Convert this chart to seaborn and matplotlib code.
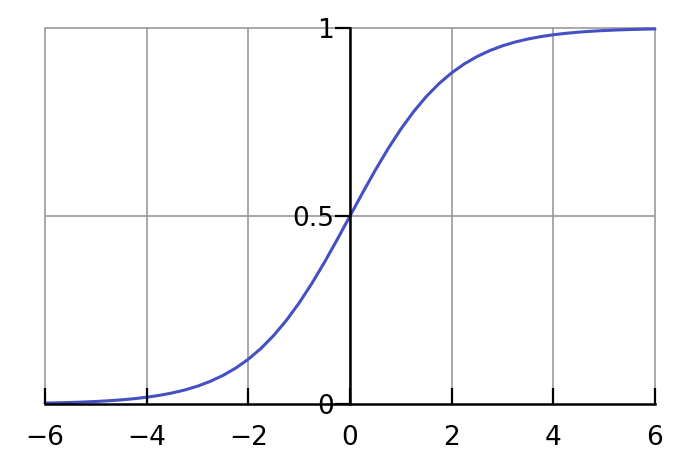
import numpy as np
import pandas as pd
import matplotlib
matplotlib.use('Agg')
import matplotlib.pyplot as plt
import seaborn as sns

# Logistic curve, values
x_vals = [-6, -5.75, -5.5, -5.25, -5, -4.75, -4.5, -4.25, -4, -3.75, -3.5, -3.25, -3,
          -2.75, -2.5, -2.25, -2, -1.75, -1.5, -1.25, -1, -0.75, -0.5, -0.25, 0,
          0.25, 0.5, 0.75, 1, 1.25, 1.5, 1.75, 2, 2.25, 2.5, 2.75, 3,
          3.25, 3.5, 3.75, 4, 4.25, 4.5, 4.75, 5, 5.25, 5.5, 5.75, 6]
y_vals = [0.0025, 0.0032, 0.0041, 0.0052, 0.0067, 0.0086, 0.0110, 0.0141, 0.0180, 0.0230,
          0.0293, 0.0373, 0.0474, 0.0601, 0.0759, 0.0953, 0.1192, 0.1480, 0.1824, 0.2227,
          0.2689, 0.3208, 0.3775, 0.4378, 0.5,
          0.5622, 0.6225, 0.6792, 0.7311, 0.7773, 0.8176, 0.8520, 0.8808, 0.9047, 0.9241,
          0.9399, 0.9526, 0.9627, 0.9707, 0.9770, 0.9820, 0.9859, 0.9890, 0.9914, 0.9933,
          0.9948, 0.9959, 0.9968, 0.9975]
x_ticks = [-6, -4, -2, 0, 2, 4, 6]
x_labels = ['\u22126', '\u22124', '\u22122', '0', '2', '4', '6']
y_ticks = [0, 0.5, 1]
y_labels = ['0', '0.5', '1']

df = pd.DataFrame({'x': x_vals, 'y': y_vals})

sns.set_style('white')
plt.rcParams['font.family'] = ['DejaVu Sans']

fig = plt.figure(figsize=(7, 4.67), dpi=100)
ax = fig.add_axes([45 / 700, 1 - 404 / 467, 610 / 700, 376 / 467])

# grid
for xv in x_ticks:
    ax.axvline(xv, color='#999999', lw=1.2, zorder=1, clip_on=False)
for yv in [0.5, 1]:
    ax.axhline(yv, color='#999999', lw=1.2, zorder=1, clip_on=False)

sns.lineplot(data=df, x='x', y='y', ax=ax, color='#4450c4', lw=2.2, zorder=3, clip_on=False)

ax.set_xlim(-6, 6)
ax.set_ylim(0, 1)
ax.set_xlabel('')
ax.set_ylabel('')

ax.spines['top'].set_visible(False)
ax.spines['right'].set_visible(False)
ax.spines['left'].set_position(('data', 0))
for side in ['left', 'bottom']:
    ax.spines[side].set_linewidth(1.8)
    ax.spines[side].set_color('black')
    ax.spines[side].set_zorder(4)

ax.set_xticks(x_ticks)
ax.set_xticklabels(x_labels, fontsize=19, color='black')
ax.set_yticks(y_ticks)
ax.set_yticklabels(y_labels, fontsize=19, color='black')
ax.tick_params(axis='x', direction='in', length=11.5, width=1.6, pad=15, color='black', zorder=5)
ax.tick_params(axis='y', direction='out', length=10.5, width=1.6, pad=1, color='black', zorder=5)
ax.xaxis.set_ticks_position('bottom')
ax.yaxis.set_ticks_position('left')
ax.xaxis.set_zorder(5)
ax.yaxis.set_zorder(5)

fig.savefig('out.png', dpi=100)
